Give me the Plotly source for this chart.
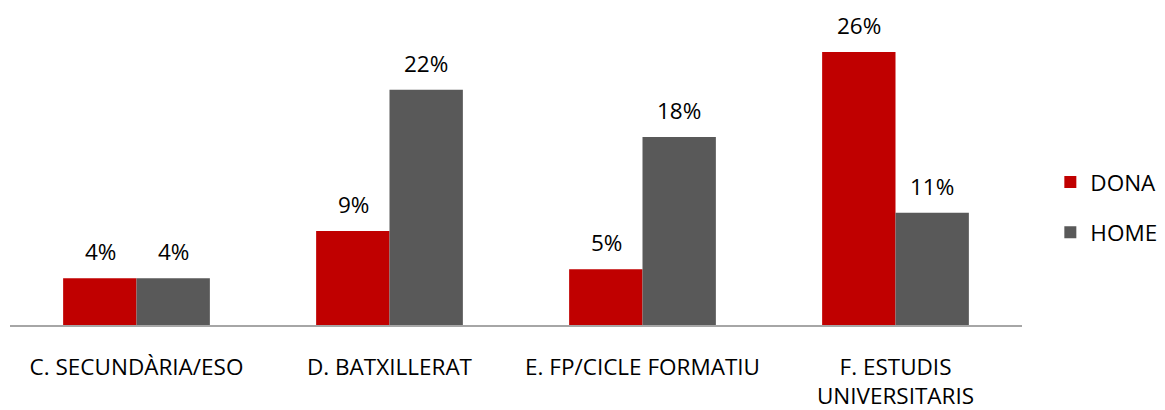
import plotly.graph_objects as go

categories = ["C. SECUNDÀRIA/ESO", "D. BATXILLERAT", "E. FP/CICLE FORMATIU", "F. ESTUDIS<br>UNIVERSITARIS"]
dona = [4.45, 8.95, 5.3, 26.0]
home = [4.45, 22.4, 17.9, 10.7]
series_names = ["DONA", "HOME"]
colors = ["#C00000", "#595959"]

FONT = "Open Sans"
FS = 22.5
fig = go.Figure()
for i, (name, vals) in enumerate(zip(series_names, [dona, home])):
    fig.add_trace(go.Bar(
        x=categories, y=vals, name=name, marker_color=colors[i],
        marker_line_width=0, legendgroup=name,
        offsetgroup=str(i),
    ))
    for c, v in zip(categories, vals):
        fig.add_annotation(
            x=c, y=v, text=f"{round(v)}%", showarrow=False,
            xshift=(-36.5 if i == 0 else 36.5), yanchor="bottom", yshift=9,
            font=dict(family=FONT, size=FS, color="#000000"),
        )

fig.update_layout(
    width=1157, height=402,
    margin=dict(l=2, r=143, t=23, b=85, autoexpand=False),
    paper_bgcolor="white", plot_bgcolor="white",
    barmode="group", bargap=0.42, bargroupgap=0,
    font=dict(family=FONT, size=FS, color="#000000"),
    legend=dict(x=1.028, y=0.40, xanchor="left", yanchor="middle",
                font=dict(family=FONT, size=FS), tracegroupgap=18,
                itemwidth=30),
    showlegend=True,
)
fig.update_xaxes(showline=True, linecolor="#A6A6A6", linewidth=2, showgrid=False,
                 ticks="", ticklabelstandoff=21, automargin=False,
                 tickfont=dict(family=FONT, size=FS))
fig.update_yaxes(range=[0, 28], visible=False, showgrid=False)

fig.write_html("out.html")
